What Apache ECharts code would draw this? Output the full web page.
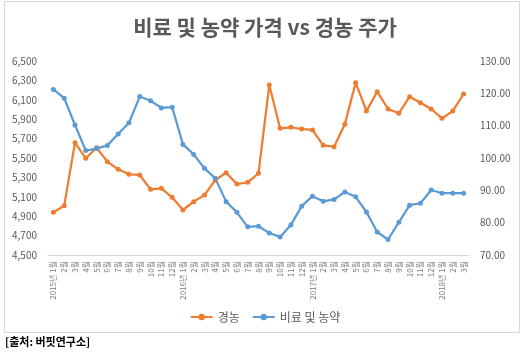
<!DOCTYPE html>
<html><head><meta charset="utf-8">
<script src="https://cdn.jsdelivr.net/npm/echarts@6/dist/echarts.min.js"></script>
<style>html,body{margin:0;padding:0;background:#fff}#c{width:530px;height:355px}</style>
</head><body><div id="c"></div>
<script>
const categories = [
 '2015년 1월','2월','3월','4월','5월','6월','7월','8월','9월','10월','11월','12월',
 '2016년 1월','2월','3월','4월','5월','6월','7월','8월','9월','10월','11월','12월',
 '2017년 1월','2월','3월','4월','5월','6월','7월','8월','9월','10월','11월','12월',
 '2018년 1월','2월','3월'];
const gyeongnong = [4940,5008,5658,5497,5606,5462,5383,5332,5325,5177,5188,5095,
 4964,5050,5118,5273,5348,5232,5249,5342,6253,5806,5816,5799,
 5789,5631,5617,5847,6277,5985,6184,6005,5961,6132,6070,6005,
 5909,5985,6160];
const fertilizer = [121.2,118.5,110.2,102.3,102.9,103.9,107.4,110.9,119.0,117.7,115.5,115.7,
 104.2,101.1,96.8,93.7,86.5,83.2,78.7,78.9,76.8,75.6,79.3,85.1,
 88.2,86.6,87.2,89.5,88.0,83.3,77.1,74.8,80.1,85.4,86.0,90.1,
 89.1,89.1,89.1];
const leftTicks = {min:4500, max:6500, interval:200};
const rightTicks = {min:70, max:130, interval:10};
const seriesNames = ['경농','비료 및 농약'];
const titleText = '비료 및 농약 가격 vs 경농 주가';
const sourceText = '[출처: 버핏연구소]';

const chart = echarts.init(document.getElementById('c'));
const font = '"Malgun Gothic","Noto Sans CJK KR",sans-serif';
chart.setOption({
  animation:false,
  textStyle:{fontFamily:font},
  title:{text:titleText,left:'center',top:12,textStyle:{fontSize:21,fontWeight:'bold',color:'#595959',fontFamily:font}},
  graphic:[
    {type:'rect',shape:{x:4.5,y:1.5,width:515,height:331},style:{fill:'none',stroke:'#d9d9d9',lineWidth:1}},
    {type:'text',left:5,top:336,style:{text:sourceText,font:'bold 11px '+font,fill:'#000'}}
  ],
  legend:{data:seriesNames,bottom:27,left:'center',itemWidth:22,itemHeight:8,itemGap:12,
    textStyle:{fontSize:12,color:'#595959',fontFamily:font}},
  grid:{left:48,right:61,top:61,bottom:100},
  xAxis:{type:'category',data:categories,boundaryGap:true,
    axisLine:{lineStyle:{color:'#d9d9d9'}},axisTick:{show:false},
    axisLabel:{interval:0,rotate:90,fontSize:8,color:'#7f7f7f',margin:6,fontFamily:font}},
  yAxis:[
    {type:'value',min:leftTicks.min,max:leftTicks.max,interval:leftTicks.interval,
     splitLine:{show:false},axisLine:{show:false},axisTick:{show:false},
     axisLabel:{color:'#595959',fontSize:10,margin:11,formatter:v=>v.toLocaleString('en-US')}},
    {type:'value',min:rightTicks.min,max:rightTicks.max,interval:rightTicks.interval,
     splitLine:{show:false},axisLine:{show:false},axisTick:{show:false},
     axisLabel:{color:'#595959',fontSize:10,margin:11,formatter:v=>v.toFixed(2)}}
  ],
  series:[
    {name:seriesNames[0],type:'line',yAxisIndex:0,data:gyeongnong,color:'#ED7D31',
     symbol:'circle',symbolSize:5,lineStyle:{width:2.25}},
    {name:seriesNames[1],type:'line',yAxisIndex:1,data:fertilizer,color:'#5B9BD5',
     symbol:'circle',symbolSize:5,lineStyle:{width:2.25}}
  ]
});
</script></body></html>
